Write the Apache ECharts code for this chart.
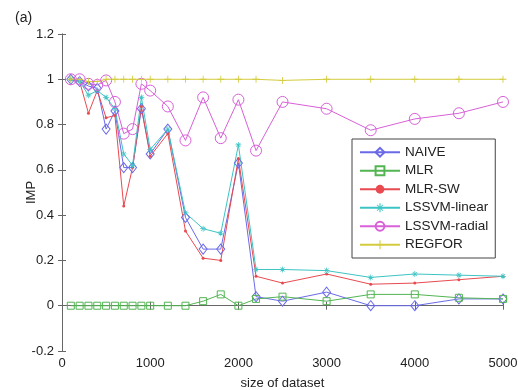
<!DOCTYPE html>
<html>
<head>
<meta charset="utf-8">
<script src="https://cdn.jsdelivr.net/npm/echarts@6/dist/echarts.min.js"></script>
<style>html,body{margin:0;padding:0;background:#fff}#c{width:518px;height:390px}</style>
</head>
<body>
<div id="c"></div>
<script>
var sizes = [100,200,300,400,500,600,700,800,900,1000,1200,1400,1600,1800,2000,2200,2500,3000,3500,4000,4500,5000];
var naive = [1.0,0.99,0.97,0.96,0.78,0.86,0.61,0.61,0.87,0.67,0.78,0.39,0.25,0.25,0.63,0.04,0.02,0.06,0.0,0.0,0.03,0.03];
var mlr = [0,0,0,0,0,0,0,0,0,0,0,0,0.02,0.05,0.0,0.03,0.04,0.02,0.05,0.05,0.035,0.03];
var mlrSw = [1.0,0.99,0.85,0.95,0.83,0.84,0.44,0.61,0.88,0.66,0.76,0.33,0.21,0.20,0.65,0.13,0.10,0.14,0.095,0.10,0.115,0.13];
var lssvmLinear = [1.0,0.99,0.93,0.95,0.92,0.87,0.67,0.62,0.92,0.69,0.78,0.41,0.34,0.32,0.71,0.16,0.16,0.155,0.125,0.14,0.135,0.13];
var lssvmRadial = [1.0,1.0,0.98,0.975,0.995,0.90,0.76,0.78,0.98,0.95,0.88,0.73,0.92,0.74,0.91,0.685,0.90,0.87,0.775,0.825,0.85,0.90];
var regfor = [1.0,1.0,0.99,0.99,1.0,1.0,1.0,1.0,1.0,1.0,1.0,1.0,1.0,1.0,1.0,1.0,0.995,1.0,1.0,1.0,1.0,1.0];
var yTicks = [-0.2,0,0.2,0.4,0.6,0.8,1,1.2];
var xTicks = [0,1000,2000,3000,4000,5000];

function pairs(v){ return sizes.map(function(x,i){ return [x, v[i]]; }); }
var plusPath = 'path://M4.4,0h1.2v10h-1.2zM0,4.4h10v1.2h-10z';
var astPath = 'path://M4.4,0h1.2v10h-1.2zM0,4.4h10v1.2h-10zM1.2,2.0l0.8,-0.8l6.8,6.8l-0.8,0.8zM8.8,2.0l-0.8,-0.8l-6.8,6.8l0.8,0.8z';

function ser(name, data, color, symbol, size, filled){
  return {
    name: name, type: 'line', data: pairs(data),
    symbol: symbol, symbolSize: size, showSymbol: true,
    lineStyle: { color: color, width: 1 },
    itemStyle: filled ? { color: color } : { color: 'rgba(255,255,255,0)', borderColor: color, borderWidth: 1 },
    emphasis: { disabled: true },
    animation: false
  };
}

var chart = echarts.init(document.getElementById('c'), null, { renderer: 'canvas' });
var FF = 'Liberation Sans, Arial, sans-serif';
var axisFont = { color: '#222', fontSize: 13, fontFamily: FF };
chart.setOption({
  animation: false,
  backgroundColor: '#fff',
  title: { text: '(a)', left: 10, top: 6, textStyle: { fontSize: 14, fontWeight: 'normal', color: '#222', fontFamily: FF } },
  grid: { left: 62, right: 15, top: 34, bottom: 39, show: false, outerBoundsMode: 'none', containLabel: false },
  legend: {
    orient: 'vertical', left: 352, top: 139,
    padding: [6, 7, 6, 7],
    itemGap: 4, itemWidth: 40, itemHeight: 11,
    borderColor: '#444', borderWidth: 1, backgroundColor: '#fff',
    textStyle: { fontSize: 13.5, color: '#222', fontFamily: FF, lineHeight: 14.5 },
    data: ['NAIVE','MLR','MLR-SW','LSSVM-linear','LSSVM-radial','REGFOR']
  },
  xAxis: [{
    type: 'value', min: 0, max: 5000, interval: 1000,
    name: 'size of dataset', nameLocation: 'middle', nameGap: 26, nameMoveOverlap: false,
    nameTextStyle: axisFont,
    axisLine: { lineStyle: { color: '#666' } },
    axisTick: { inside: true, length: 4, lineStyle: { color: '#666' } },
    axisLabel: Object.assign({ margin: 6, formatter: function(v){ return String(v); } }, axisFont),
    splitLine: { show: false }
  }, {
    type: 'value', min: 0, max: 5000, interval: 1000, position: 'top',
    axisLine: { show: true, lineStyle: { color: '#666' } },
    axisTick: { show: true, inside: true, length: 4, lineStyle: { color: '#666' } },
    axisLabel: { show: false }, splitLine: { show: false }
  }],
  yAxis: [{
    type: 'value', min: -0.2, max: 1.2, interval: 0.2,
    name: 'IMP', nameLocation: 'middle', nameGap: 24, nameRotate: 90, nameMoveOverlap: false,
    nameTextStyle: axisFont,
    axisLine: { show: true, lineStyle: { color: '#666' } },
    axisTick: { show: true, inside: true, length: 4, lineStyle: { color: '#666' } },
    axisLabel: Object.assign({ margin: 8, formatter: function(v){ return String(Math.round(v*10)/10); } }, axisFont),
    splitLine: { show: false }
  }, {
    type: 'value', min: -0.2, max: 1.2, interval: 0.2, position: 'right',
    axisLine: { show: true, lineStyle: { color: '#666' } },
    axisTick: { show: true, inside: true, length: 4, lineStyle: { color: '#666' } },
    axisLabel: { show: false }, splitLine: { show: false }
  }],
  series: [
    ser('NAIVE', naive, '#6a6ae8', 'diamond', [8, 10], false),
    ser('MLR', mlr, '#52b552', 'rect', 7, false),
    ser('MLR-SW', mlrSw, '#e84a50', 'circle', 3, true),
    ser('LSSVM-linear', lssvmLinear, '#3ec4c4', astPath, 6, true),
    ser('LSSVM-radial', lssvmRadial, '#d860d8', 'circle', 11, false),
    ser('REGFOR', regfor, '#d4cc3c', plusPath, 7, true)
  ]
});
</script>
</body>
</html>
